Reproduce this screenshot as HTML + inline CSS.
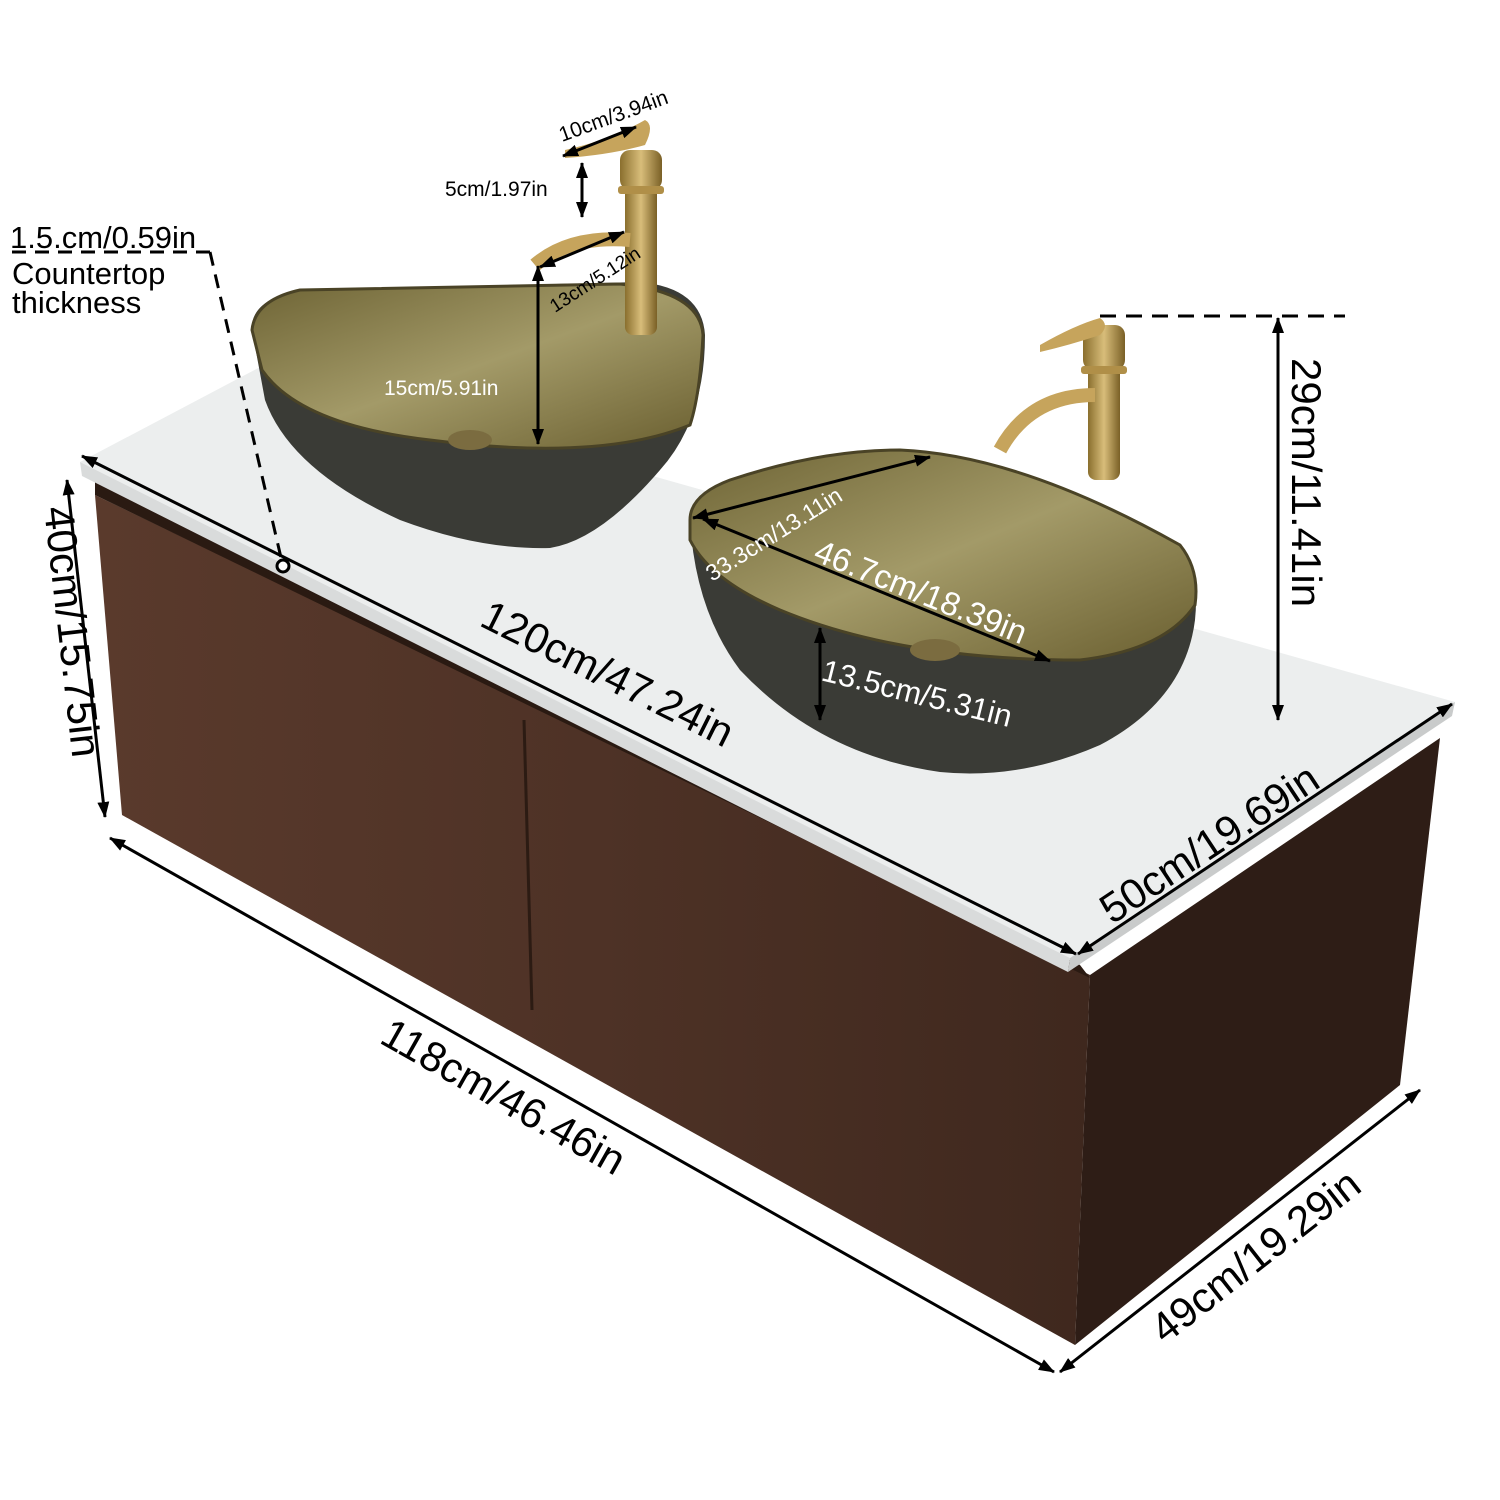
<!DOCTYPE html>
<html><head><meta charset="utf-8"><style>
html,body{margin:0;padding:0;background:#fff;}
svg{display:block;font-family:"Liberation Sans",Arial,sans-serif;}
</style></head><body>
<svg width="1500" height="1500" viewBox="0 0 1500 1500" xmlns="http://www.w3.org/2000/svg">
<defs>
<linearGradient id="wood" x1="0" y1="0" x2="1" y2="0">
<stop offset="0" stop-color="#5a3a2c"/><stop offset="0.5" stop-color="#4e3226"/><stop offset="1" stop-color="#3f281e"/>
</linearGradient>
<linearGradient id="gold" x1="0" y1="0" x2="1" y2="1">
<stop offset="0" stop-color="#6e6435"/><stop offset="0.5" stop-color="#a39a68"/><stop offset="1" stop-color="#6a5f30"/>
</linearGradient>
<linearGradient id="faucet" x1="0" y1="0" x2="1" y2="0">
<stop offset="0" stop-color="#8a6f2e"/><stop offset="0.5" stop-color="#d8bd7a"/><stop offset="1" stop-color="#7a6026"/>
</linearGradient>
<marker id="ah" markerWidth="16" markerHeight="12" refX="15" refY="6" orient="auto-start-reverse" markerUnits="userSpaceOnUse">
<path d="M0,0 L16,6 L0,12 Z" fill="#000"/>
</marker>
</defs>

<!-- cabinet right side -->
<polygon points="1090,975 1440,738 1400,1085 1075,1345" fill="#2e1d16"/>
<!-- cabinet front -->
<polygon points="95,495 1090,975 1075,1345 122,815" fill="url(#wood)"/>
<line x1="524" y1="720" x2="532" y2="1010" stroke="#2c1b13" stroke-width="3"/>
<polygon points="95,480 1080,965 1090,978 95,495" fill="#2a1a12"/>

<!-- countertop -->
<polygon points="80,462 262,366 1455,702 1070,958" fill="#eceeee"/>
<polygon points="80,462 1070,958 1068,972 82,476" fill="#d9dbdb"/>
<polygon points="1070,958 1455,702 1452,716 1068,972" fill="#c9cbcb"/>

<!-- left sink -->
<path d="M252,330 Q250,300 300,290 L640,282 Q702,288 705,335 Q705,420 660,470 Q600,540 550,548 Q480,550 400,520 Q290,470 265,400 Z" fill="#3a3b36"/>
<path d="M252,330 Q255,300 300,290 L620,284 Q700,292 703,335 Q700,395 690,425 Q600,462 430,440 Q300,425 262,370 Z" fill="url(#gold)" stroke="#4a4326" stroke-width="3"/>
<ellipse cx="470" cy="440" rx="22" ry="10" fill="#7b6c40"/>

<!-- right sink -->
<path d="M690,520 Q690,495 730,480 Q820,450 900,450 Q1020,455 1180,545 Q1200,570 1195,620 Q1185,700 1100,745 Q1020,780 940,772 Q820,755 740,670 Q695,610 690,520 Z" fill="#3a3b36"/>
<path d="M690,520 Q690,495 730,480 Q820,450 900,450 Q1020,455 1180,545 Q1200,570 1195,605 Q1165,650 1080,660 Q900,660 780,610 Q710,580 690,540 Z" fill="url(#gold)" stroke="#4a4326" stroke-width="3"/>
<ellipse cx="935" cy="650" rx="25" ry="11" fill="#7b6c40"/>

<!-- left faucet -->
<rect x="625" y="185" width="32" height="150" rx="8" fill="url(#faucet)"/>
<rect x="620" y="150" width="42" height="40" rx="10" fill="url(#faucet)"/>
<rect x="618" y="186" width="46" height="8" rx="3" fill="#b08f48"/>
<path d="M630,240 Q570,235 535,265" stroke="#c6a45c" stroke-width="14" fill="none"/>
<path d="M565,150 Q610,140 645,120 Q655,125 645,145 Q610,155 565,158 Z" fill="#c6a45c"/>
<!-- right faucet -->
<rect x="1088" y="345" width="32" height="135" rx="8" fill="url(#faucet)"/>
<rect x="1083" y="325" width="42" height="45" rx="10" fill="url(#faucet)"/>
<rect x="1081" y="366" width="46" height="8" rx="3" fill="#b08f48"/>
<path d="M1095,395 Q1030,395 1000,450" stroke="#c6a45c" stroke-width="14" fill="none"/>
<path d="M1040,345 Q1075,325 1100,318 Q1110,325 1100,335 Q1070,345 1040,352 Z" fill="#c6a45c"/>

<!-- dimension lines -->
<g stroke="#000" stroke-width="3" fill="none">
<line x1="82" y1="456" x2="1076" y2="954" marker-start="url(#ah)" marker-end="url(#ah)"/>
<line x1="67" y1="480" x2="105" y2="817" marker-start="url(#ah)" marker-end="url(#ah)"/>
<line x1="110" y1="838" x2="1054" y2="1372" marker-start="url(#ah)" marker-end="url(#ah)"/>
<line x1="1060" y1="1372" x2="1420" y2="1090" marker-start="url(#ah)" marker-end="url(#ah)"/>
<line x1="1078" y1="954" x2="1452" y2="704" marker-start="url(#ah)" marker-end="url(#ah)"/>
<line x1="1278" y1="318" x2="1278" y2="720" marker-start="url(#ah)" marker-end="url(#ah)"/>
<line x1="1100" y1="316" x2="1345" y2="316" stroke-dasharray="16,10"/>
<line x1="12" y1="252" x2="210" y2="252" stroke-dasharray="14,9"/>
<line x1="210" y1="252" x2="282" y2="562" stroke-dasharray="14,9"/>
<line x1="538" y1="266" x2="538" y2="444" marker-start="url(#ah)" marker-end="url(#ah)"/>
<line x1="540" y1="267" x2="624" y2="232" marker-start="url(#ah)" marker-end="url(#ah)"/>
<line x1="582" y1="163" x2="582" y2="217" marker-start="url(#ah)" marker-end="url(#ah)"/>
<line x1="563" y1="156" x2="636" y2="127" marker-start="url(#ah)" marker-end="url(#ah)"/>
<line x1="693" y1="518" x2="930" y2="457" marker-start="url(#ah)" marker-end="url(#ah)"/>
<line x1="703" y1="519" x2="1050" y2="661" marker-start="url(#ah)" marker-end="url(#ah)"/>
<line x1="820" y1="628" x2="820" y2="720" marker-start="url(#ah)" marker-end="url(#ah)"/>
</g>
<circle cx="283" cy="566" r="6" fill="#fff" stroke="#000" stroke-width="3"/>

<!-- labels -->
<g fill="#000">
<text x="10" y="248" font-size="31">1.5.cm/0.59in</text>
<text x="12" y="284" font-size="31">Countertop</text>
<text x="12" y="313" font-size="31">thickness</text>
<text x="445" y="196" font-size="21">5cm/1.97in</text>
<text transform="translate(562,142) rotate(-20)" font-size="21">10cm/3.94in</text>
<text transform="translate(555,313) rotate(-33)" font-size="19">13cm/5.12in</text>
<text transform="translate(478,625) rotate(26.5)" font-size="42">120cm/47.24in</text>
<text transform="translate(44,508) rotate(83.5)" font-size="42">40cm/15.75in</text>
<text transform="translate(378,1042) rotate(29.5)" font-size="42">118cm/46.46in</text>
<text transform="translate(1165,1345) rotate(-38)" font-size="42">49cm/19.29in</text>
<text transform="translate(1112,925) rotate(-33.5)" font-size="42">50cm/19.69in</text>
<text transform="translate(1292,358) rotate(90)" font-size="42">29cm/11.41in</text>
</g>
<g fill="#fff">
<text x="384" y="395" font-size="21">15cm/5.91in</text>
<text transform="translate(712,582) rotate(-32)" font-size="23">33.3cm/13.11in</text>
<text transform="translate(812,560) rotate(22)" font-size="33">46.7cm/18.39in</text>
<text transform="translate(820,680) rotate(14)" font-size="31">13.5cm/5.31in</text>
</g>
</svg>
</body></html>
